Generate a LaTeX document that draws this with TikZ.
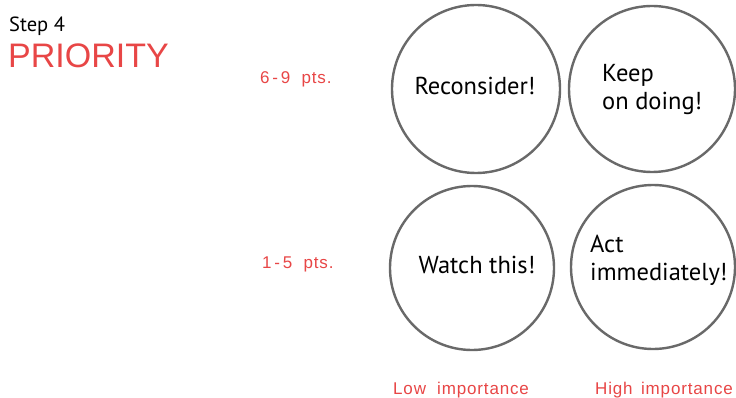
\documentclass[tikz,border=0pt]{standalone}
\usepackage{fontspec}
\setmainfont{PT Sans}
\newfontfamily\redfont[LetterSpace=5]{Liberation Sans}
\newfontfamily\prfont{Liberation Sans}
\definecolor{redtxt}{RGB}{232,70,70}
\definecolor{ringgray}{RGB}{105,105,105}
\begin{document}
\begin{tikzpicture}[x=1pt,y=-1pt,
  ring/.style={circle,draw=ringgray,line width=2.4pt,inner sep=0pt},
  blk/.style={inner sep=0pt,font=\fontsize{24.5}{24.5}\selectfont},
  redlbl/.style={inner sep=0pt,text=redtxt,font=\redfont\fontsize{17}{17}\selectfont}]
\useasboundingbox (0,0) rectangle (736,398);
\fill[white] (0,0) rectangle (736,398);
\node[ring,minimum size=168pt] (c1) at (476,89) {};
\node[ring,minimum size=166pt] (c2) at (652,89) {};
\node[ring,minimum size=164pt] (c3) at (472,268) {};
\node[ring,minimum size=164pt] (c4) at (653,267) {};
\node[blk,anchor=base] (t1) at (475,95) {Reconsider!};
\node[blk,anchor=base west] (t2a) at (602,82) {Keep};
\node[blk,anchor=base west] (t2b) at (602,110) {on doing!};
\node[blk,anchor=base] (t3) at (477,273) {Watch this!};
\node[blk,anchor=base west] (t4a) at (590,252) {Act};
\node[blk,anchor=base west] (t4b) at (590,280) {immediately!};
\node[inner sep=0pt,anchor=base west,font=\fontsize{20.5}{20.5}\selectfont] (step) at (9,32) {Step 4};
\node[inner sep=0pt,anchor=base west,text=redtxt,font=\prfont\fontsize{34}{34}\selectfont] (prio) at (8,68) {PRIORITY};
\node[redlbl,anchor=base west] (hi) at (260,84) {6\,-\,9\ \ pts.};
\node[redlbl,anchor=base west] (lo) at (262,268) {1\,-\,5\ \ pts.};
\node[redlbl,anchor=base west] (low) at (393,394) {Low\ \ importance};
\node[redlbl,anchor=base west] (high) at (595,394) {High\ \,importance};
\end{tikzpicture}
\end{document}
